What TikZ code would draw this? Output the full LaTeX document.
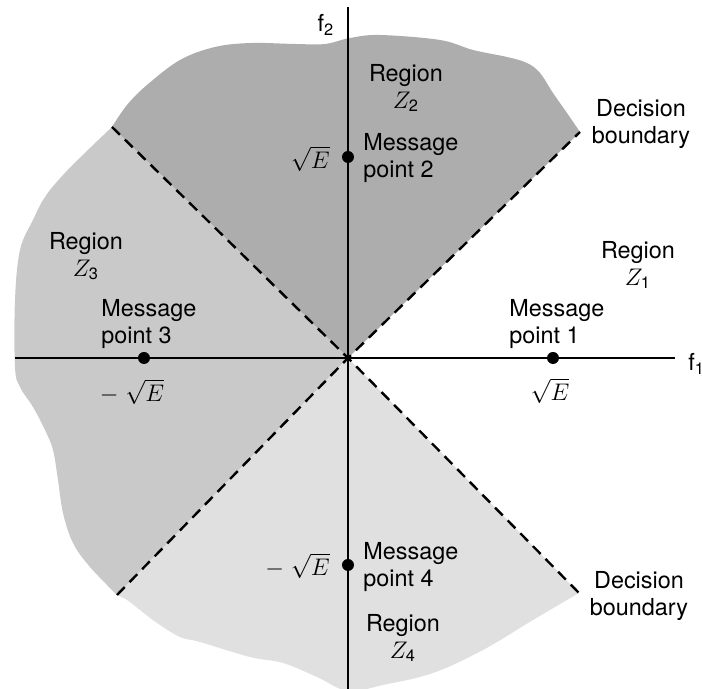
\documentclass[tikz,border=0pt]{standalone}
\usepackage{amsmath}
\usepackage{fontspec}
\setmainfont{TeX Gyre Heros}
\definecolor{zonetwo}{HTML}{ADADAD}
\definecolor{zonethree}{HTML}{C8C9C8}
\definecolor{zonefour}{HTML}{DFE0DF}

\begin{document}
\begin{tikzpicture}[x=.5pt, y=.5pt,
        lbl/.style={inner sep=0pt, font=\fontsize{11.7}{13.5}\selectfont},
        msgdot/.style={circle, fill=black, inner sep=0pt, minimum size=6pt},
        boundary/.style={line width=1.2pt, dash pattern=on 5.5pt off 3.5pt},
        axis/.style={line width=.9pt}]
        \useasboundingbox (-348, -331) rectangle (354, 358);
        \coordinate (o) at (0, 0);
        \coordinate (ul) at (-236, 231);
        \coordinate (ur) at (232, 226);
        \coordinate (ll) at (-231, -237);
        \coordinate (lr) at (231, -235);
        % the three shaded regions
        \fill[zonetwo] (o) -- plot[smooth, tension=.6] coordinates {(-236, 231) (-221, 253) (-201, 273) (-168, 298) (-133, 311) (-97, 315) (-53, 314) (-23, 314) (2, 320) (32, 323) (92, 318) (125, 308) (159, 301) (179, 295) (192, 285) (205, 265) (219, 245) (232, 226)} -- cycle;
        \fill[zonethree] (o) -- plot[smooth, tension=.6] coordinates {(-236, 231) (-258, 210) (-285, 183) (-303, 161) (-315, 138) (-328, 108) (-333, 58) (-333, -9) (-328, -29) (-315, -49) (-303, -72) (-295, -92) (-290, -122) (-285, -155) (-275, -185) (-258, -209) (-231, -237)} -- cycle;
        \fill[zonefour] (o) -- plot[smooth, tension=.6] coordinates {(-231, -237) (-221, -242) (-208, -252) (-191, -265) (-168, -279) (-148, -284) (-98, -299) (-65, -305) (-31, -319) (0, -333) (35, -327) (85, -315) (135, -292) (185, -262) (231, -235)} -- cycle;
        % decision boundaries
        \draw[boundary] (ul) -- (o) -- (lr);
        \draw[boundary] (ll) -- (o) -- (ur);
        % axes
        \coordinate (xl) at (-333, 0);
        \coordinate (xr) at (327, 0);
        \coordinate (yb) at (0, -335);
        \coordinate (yt) at (0, 351);
        \draw[axis] (xl) -- (xr);
        \draw[axis] (yb) -- (yt);
        \node[lbl, anchor=west] (f1) at (340, -6) {f\textsubscript{1}};
        \node[lbl] (f2) at (-22, 333) {f\textsubscript{2}};
        % message points
        \node[msgdot] (m1) at (205, 0) {};
        \node[msgdot] (m2) at (0, 201) {};
        \node[msgdot] (m3) at (-204, 0) {};
        \node[msgdot] (m4) at (0, -207) {};
        \node[lbl, anchor=north] (s1) at (202, -20) {$\sqrt{E}$};
        \node[lbl, anchor=east] (s2) at (-18, 199) {$\sqrt{E}$};
        \node[lbl, anchor=north] (s3) at (-216, -21) {$-\;\sqrt{E}$};
        \node[lbl, anchor=east] (s4) at (-18, -208) {$-\;\sqrt{E}$};
        \node[lbl, align=left, anchor=west] (t1) at (161, 34) {Message\\point 1};
        \node[lbl, align=left, anchor=west] (t2) at (15, 200) {Message\\point 2};
        \node[lbl, align=left, anchor=west] (t3) at (-247, 34) {Message\\point 3};
        \node[lbl, align=left, anchor=west] (t4) at (15, -209) {Message\\point 4};
        % region names
        \node[lbl, align=center] (z1) at (290, 93) {Region\\$Z_{\text{1}}$};
        \node[lbl, align=center] (z2) at (58, 270) {Region\\$Z_{\text{2}}$};
        \node[lbl, align=center] (z3) at (-262, 102) {Region\\$Z_{\text{3}}$};
        \node[lbl, align=center] (z4) at (55, -280) {Region\\$Z_{\text{4}}$};
        \node[lbl, align=center] (d1) at (293, 234) {Decision\\boundary};
        \node[lbl, align=center] (d2) at (291, -238) {Decision\\boundary};
    \end{tikzpicture}
\end{document}
